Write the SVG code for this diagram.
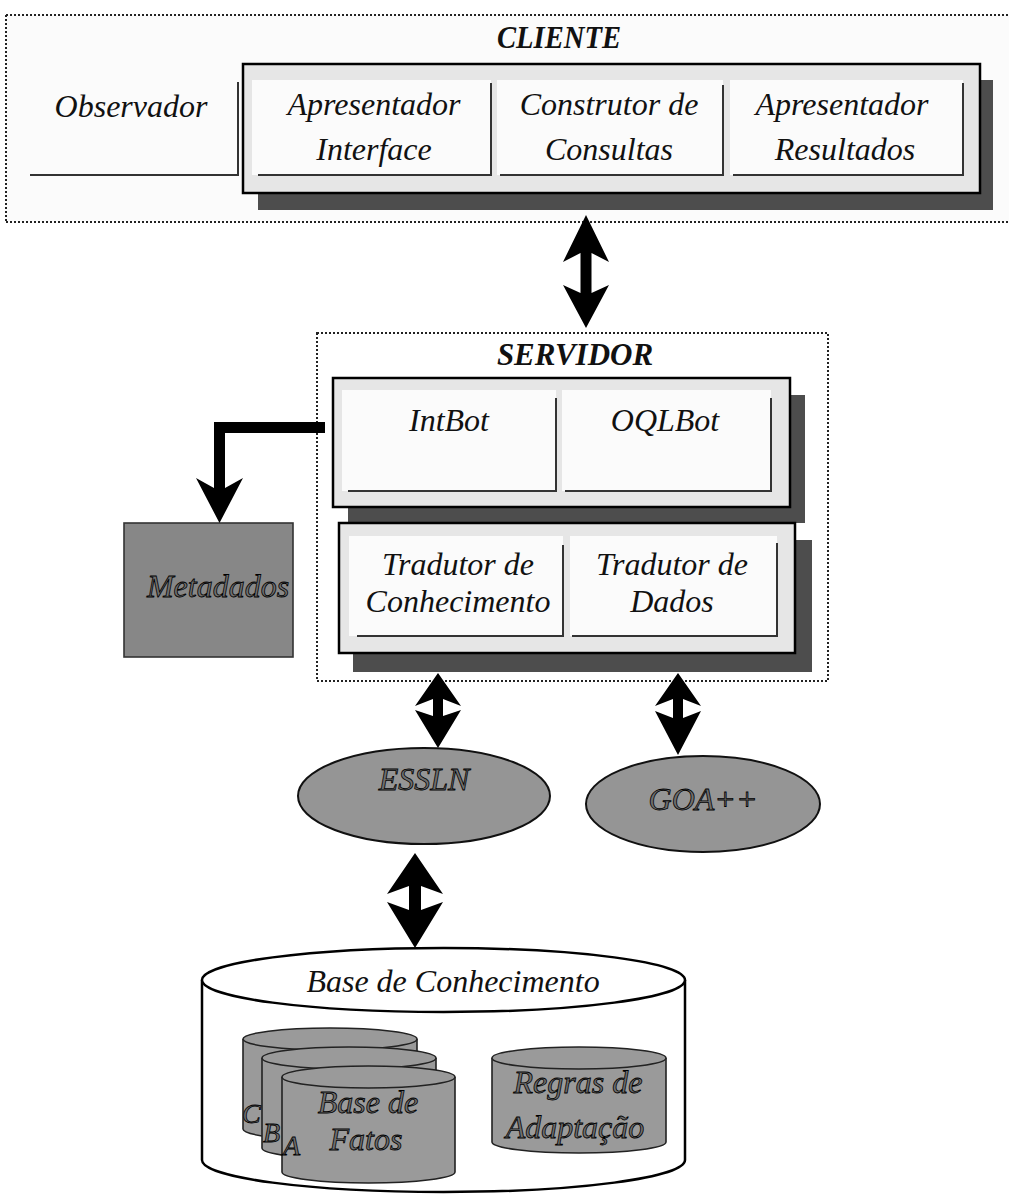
<svg xmlns="http://www.w3.org/2000/svg" width="1009" height="1194" viewBox="0 0 1009 1194">
<style>
  .t { font-family: "Liberation Serif", "Times New Roman", serif; font-style: italic; font-size: 32px; fill: #111; text-anchor: middle; }
  .title { font-weight: bold; font-size: 31px; }
  .emb { fill: #6f6f6f; stroke: #000; stroke-width: 0.8px; }
  .lab { font-size: 28px; text-anchor: start; }
  .dot { fill: none; stroke: #222; stroke-width: 2; stroke-dasharray: 2 2; }
  .box { fill: #e6e6e6; stroke: #000; stroke-width: 2.5; }
  .panel { fill: #fbfbfb; stroke: none; }
  .edge { fill: none; stroke: #333; stroke-width: 2; }
  .shadow { fill: #4d4d4d; }
  .grey { fill: #959595; stroke: #111; stroke-width: 2; }
  .cyl { fill: #9a9a9a; stroke: #222; stroke-width: 1.6; }
  .arrow { fill: #000; }
</style>
<rect x="0" y="0" width="1009" height="1194" fill="#ffffff"/>

<g id="cliente">
  <rect x="6" y="15" width="1003" height="207" fill="#fbfbfb"/>
  <path class="dot" d="M6 15 H1009 M6 15 V222 M6 222 H1009"/>
  <text class="t title" x="559" y="48" textLength="124" lengthAdjust="spacingAndGlyphs">CLIENTE</text>
  <g id="observador">
    <path class="edge" d="M30 175 H238 V82"/>
    <text class="t" x="131" y="117">Observador</text>
  </g>
  <rect class="shadow" x="258" y="80" width="735" height="130"/>
  <rect class="box" x="243" y="64" width="737" height="129"/>
  <g id="apresentador-interface">
    <rect class="panel" x="252" y="80" width="239" height="95"/>
    <path class="edge" d="M258 175 H491 V83"/>
    <text class="t" x="374" y="115">Apresentador</text>
    <text class="t" x="374" y="160">Interface</text>
  </g>
  <g id="construtor-consultas">
    <rect class="panel" x="497" y="80" width="226" height="95"/>
    <path class="edge" d="M500 175 H723 V85"/>
    <text class="t" x="609" y="115">Construtor de</text>
    <text class="t" x="609" y="160">Consultas</text>
  </g>
  <g id="apresentador-resultados">
    <rect class="panel" x="730" y="80" width="233" height="95"/>
    <path class="edge" d="M733 175 H963 V83"/>
    <text class="t" x="842" y="115">Apresentador</text>
    <text class="t" x="845" y="160">Resultados</text>
  </g>
</g>

<g id="servidor">
  <path class="dot" d="M317 333 H828 V681 H317 Z"/>
  <text class="t title" x="575" y="365">SERVIDOR</text>
  <rect class="shadow" x="348" y="395" width="457" height="128"/>
  <rect class="box" x="333" y="378" width="457" height="129"/>
  <g id="intbot">
    <rect class="panel" x="342" y="390" width="214" height="101"/>
    <path class="edge" d="M348 491 H556 V398"/>
    <text class="t" x="449" y="431">IntBot</text>
  </g>
  <g id="oqlbot">
    <rect class="panel" x="562" y="390" width="209" height="101"/>
    <path class="edge" d="M565 491 H771 V398"/>
    <text class="t" x="665" y="431">OQLBot</text>
  </g>
  <rect class="shadow" x="353" y="540" width="459" height="132"/>
  <rect class="box" x="339" y="523" width="456" height="130"/>
  <g id="tradutor-conhecimento">
    <rect class="panel" x="349" y="536" width="214" height="100"/>
    <path class="edge" d="M357 636 H563 V545"/>
    <text class="t" x="458" y="575">Tradutor de</text>
    <text class="t" x="458" y="612">Conhecimento</text>
  </g>
  <g id="tradutor-dados">
    <rect class="panel" x="570" y="536" width="207" height="100"/>
    <path class="edge" d="M572 636 H777 V543"/>
    <text class="t" x="672" y="575">Tradutor de</text>
    <text class="t" x="672" y="612">Dados</text>
  </g>
</g>

<g id="metadados">
  <rect x="124" y="523" width="169" height="134" fill="#878787" stroke="#333" stroke-width="1.6"/>
  <text class="t emb" x="218" y="597">Metadados</text>
</g>

<g id="essln">
  <ellipse class="grey" cx="424" cy="796" rx="126" ry="48"/>
  <text class="t emb" x="424" y="790">ESSLN</text>
</g>

<g id="goa">
  <ellipse class="grey" cx="703" cy="804" rx="117" ry="48"/>
  <text class="t emb" x="703" y="810">GOA++</text>
</g>

<g id="base-conhecimento">
  <path d="M202 980 V1160 A241.5 32 0 0 0 685 1160 V980" fill="#fff" stroke="#000" stroke-width="2.5"/>
  <ellipse cx="443.5" cy="980" rx="241.5" ry="32" fill="#fff" stroke="#000" stroke-width="2.5"/>
  <text class="t" x="453" y="992">Base de Conhecimento</text>
  <g id="fatos-c">
    <path class="cyl" d="M243 1039 V1129 A87 11 0 0 0 417 1129 V1039"/>
    <ellipse class="cyl" cx="330" cy="1039" rx="87" ry="11"/>
  </g>
  <g id="fatos-b">
    <path class="cyl" d="M262 1058 V1148 A87 11 0 0 0 436 1148 V1058"/>
    <ellipse class="cyl" cx="349" cy="1058" rx="87" ry="11"/>
  </g>
  <g id="fatos-a">
    <path class="cyl" d="M282 1077 V1172 A86.5 11 0 0 0 455 1172 V1077"/>
    <ellipse class="cyl" cx="368.5" cy="1077" rx="86.5" ry="11"/>
    <text class="t emb" x="368" y="1113">Base de</text>
    <text class="t emb" x="366" y="1150">Fatos</text>
  </g>
  <text class="t emb lab" x="242" y="1123">C</text>
  <text class="t emb lab" x="263" y="1142">B</text>
  <text class="t emb lab" x="283" y="1155">A</text>
  <g id="regras">
    <path class="cyl" d="M492 1058 V1142 A87 11 0 0 0 666 1142 V1058"/>
    <ellipse class="cyl" cx="579" cy="1058" rx="87" ry="11"/>
    <text class="t emb" x="578" y="1093">Regras de</text>
    <text class="t emb" x="575" y="1138">Adaptação</text>
  </g>
</g>

<g id="connectors">
  <polygon class="arrow" points="586,215 609,262 591.5,253 591.5,293 609,285 586,328 563,285 580.5,293 580.5,253 563,262"/>
  <polygon class="arrow" points="325,422 214,422 214,488 196,478 219.5,523 243,478 225,488 225,433 325,433"/>
  <polygon class="arrow" points="438,673 461,706 443,699 443,716 461,710 438,748 415,710 433,716 433,699 415,706"/>
  <polygon class="arrow" points="678,673 701,706 683,699 683,718 701,711 678,755 655,711 673,718 673,699 655,706"/>
  <polygon class="arrow" points="415,853 443,894 421,886 421,910 443,902 415,948 387,902 409,910 409,886 387,894"/>
</g>
</svg>
